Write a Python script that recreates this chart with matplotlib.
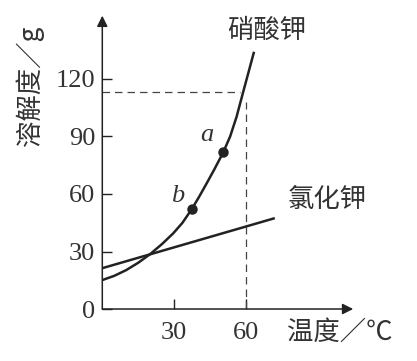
import matplotlib.pyplot as plt

plt.rcParams['font.family'] = ['Liberation Serif', 'Noto Sans CJK SC', 'DejaVu Sans']

# solubility curves (temperature in C, solubility in g)
kno3_t = [0, 5, 10, 15, 20, 25, 29.7, 33.5, 37.4, 40.5, 43.7, 47, 50.6, 53.5, 56.2, 59, 61.3, 63.5]
kno3_s = [15.1, 17.3, 20.3, 24.1, 28.6, 33.9, 39.5, 44.9, 52.0, 58.5, 65.6, 73.1, 81.7, 90.0, 100.3, 113.4, 124.0, 134.2]
kcl_t = [0, 72.2]
kcl_s = [21.3, 47.4]

# marked points a and b on the KNO3 curve
pt_labels = ['a', 'b']
pt_t = [50.6, 37.4]
pt_s = [81.7, 52.0]

yticks = [0, 30, 60, 90, 120]
xticks = [30, 60]

ink = '#222222'

fig = plt.figure(figsize=(4.17, 3.61), dpi=100)
ax = fig.add_axes([0.2453, 0.144, 0.6017, 0.8125])
ax.set_xlim(0, 105)
ax.set_ylim(0, 153)
for s in ax.spines.values():
    s.set_visible(False)

# axes with arrow heads
arrow = dict(arrowstyle='-|>', lw=1.1, color=ink, mutation_scale=16, shrinkA=0, shrinkB=0)
ax.annotate('', xy=(0, 153), xytext=(0, 0), arrowprops=arrow, annotation_clip=False)
ax.annotate('', xy=(105, 0), xytext=(0, 0), arrowprops=arrow, annotation_clip=False)

ax.set_yticks(yticks)
ax.set_xticks(xticks)
ax.tick_params(axis='both', direction='in', length=7, width=1, color=ink,
               labelsize=19, labelcolor='#333333')
ax.tick_params(axis='y', pad=5)
ax.tick_params(axis='x', pad=9)

# curves
ax.plot(kno3_t, kno3_s, color=ink, lw=1.8, solid_capstyle='butt', solid_joinstyle='round')
ax.plot(kcl_t, kcl_s, color=ink, lw=1.8, solid_capstyle='butt')

# guide lines for 60 C
ax.plot([0, 57.5], [113.4, 113.4], color='#444444', lw=0.9, ls=(0, (6, 4)))
ax.plot([60, 60], [0, 108], color='#444444', lw=0.9, ls=(0, (6, 4)))

ax.plot(pt_t, pt_s, 'o', color=ink, ms=6.5)
ax.text(pt_t[0] - 6.7, pt_s[0] + 9, pt_labels[0], fontsize=19, style='italic',
        color='#333333', ha='center', va='center')
ax.text(pt_t[1] - 6, pt_s[1] + 7, pt_labels[1], fontsize=19, style='italic',
        color='#333333', ha='center', va='center')

cjk = ['Noto Sans CJK SC', 'DejaVu Sans']
ax.text(69, 145.5, '硝酸钾', fontsize=19, family=cjk, color='#333333',
        ha='center', va='center', clip_on=False)
ax.text(94, 57, '氯化钾', fontsize=19, family=cjk, color='#333333',
        ha='center', va='center')

fig.text(340 / 417, 1 - 332 / 361, '温度／℃', fontsize=19, family=cjk,
         color='#333333', ha='center', va='center')
fig.text(30 / 417, 1 - 86 / 361, '溶解度／g', fontsize=19, family=cjk,
         color='#333333', ha='center', va='center', rotation=90)

fig.savefig('out.png', dpi=100)
